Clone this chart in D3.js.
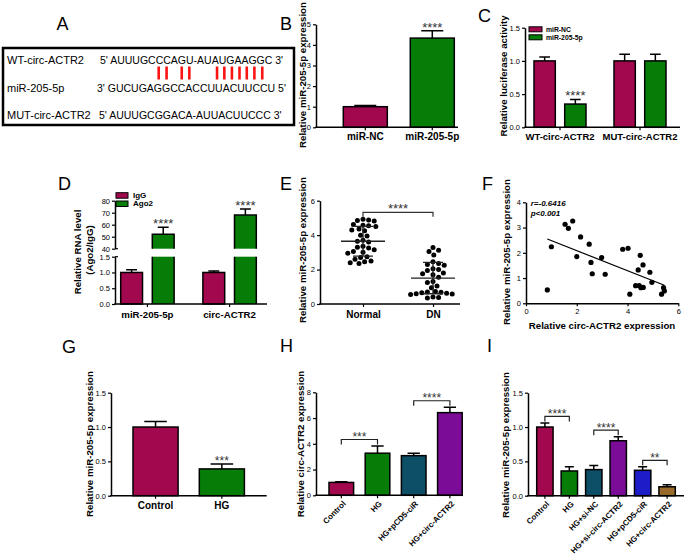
<!DOCTYPE html>
<html>
<head>
<meta charset="utf-8">
<script src="https://cdn.jsdelivr.net/npm/d3@7"></script>
<style>
  body { margin: 0; background: #fff; }
</style>
</head>
<body>
<svg id="svg" width="685" height="559"></svg>
<script>
"use strict";
// ---------- data ----------
// A: sequences (aligned column by column)
const seqNames = ['WT-circ-ACTR2', 'miR-205-5p', 'MUT-circ-ACTR2'];
const seqs = ['AUUUGCCCAGU-AUAUGAAGGC', 'GUCUGAGGCCACCUUACUUCCU', 'AUUUGCGGACA-AUUACUUCCC'];
const seqEnds = [["5'", "3'"], ["3'", "5'"], ["5'", "3'"]];

// B
const bGroups = ['miR-NC', 'miR-205-5p'];
const bMean = [1.0, 4.33];
const bErr = [0.06, 0.36];
const bStars = ['', '****'];

// C
const cGroups = ['WT-circ-ACTR2', 'MUT-circ-ACTR2'];
const cSeries = ['miR-NC', 'miR-205-5p'];
const cMean = [[1.0, 0.35], [1.0, 1.0]];
const cErr = [[0.06, 0.07], [0.10, 0.10]];
const cStars = [['', '****'], ['', '']];

// D
const dGroups = ['miR-205-5p', 'circ-ACTR2'];
const dSeries = ['IgG', 'Ago2'];
const dMean = [[1.0, 52], [1.0, 68]];
const dErr = [[0.09, 5.8], [0.05, 5.0]];
const dStars = [['', '****'], ['', '****']];

// E
const eGroups = ['Normal', 'DN'];
const eNormal = [4.92, 4.88, 4.85, 4.82, 2.50, 4.62, 4.58, 4.55, 4.50, 4.35, 4.30, 4.25, 4.00, 3.95, 3.70,
                 3.65, 3.60, 3.35, 3.30, 3.25, 3.05, 3.00, 2.95, 2.75, 2.70, 2.45, 2.40, 2.35, 2.60, 3.15];
const eDN = [3.28, 3.12, 3.05, 2.85, 2.45, 2.35, 2.30, 2.25, 2.05, 2.00, 1.95, 1.80, 1.75, 1.70, 1.55,
             1.30, 1.25, 1.05, 0.95, 0.72, 0.70, 0.68, 0.65, 0.62, 0.60, 0.58, 0.55, 0.40, 0.38, 0.35];

// F
const fCirc = [0.84, 1.00, 1.54, 1.67, 1.84, 2.00, 2.15, 2.49, 2.56, 2.61, 2.98, 3.12, 3.81, 4.02,
               4.09, 4.32, 4.42, 4.50, 4.46, 4.53, 4.61, 4.62, 4.88, 4.96, 5.34, 5.42, 5.45];
const fMiR = [0.53, 2.24, 3.13, 2.97, 3.26, 1.85, 2.63, 2.34, 1.62, 1.17, 1.81, 1.15, 2.14, 2.18,
              0.36, 0.70, 1.32, 1.90, 0.70, 0.62, 1.52, 0.63, 1.23, 0.83, 0.36, 0.62, 0.49];
const fStats = ['r=-0.6416', 'p<0.001'];

// G
const gGroups = ['Control', 'HG'];
const gMean = [1.0, 0.39];
const gErr = [0.08, 0.07];
const gStars = ['', '***'];

// H
const hGroups = ['Control', 'HG', 'HG+pCD5-ciR', 'HG+circ-ACTR2'];
const hMean = [1.0, 3.27, 3.08, 6.42];
const hErr = [0.06, 0.56, 0.19, 0.42];
const hPairs = [[0, 1, '***'], [2, 3, '****']];

// I
const iGroups = ['Control', 'HG', 'HG+si-NC', 'HG+si-circ-ACTR2', 'HG+pCD5-ciR', 'HG+circ-ACTR2'];
const iMean = [1.0, 0.36, 0.38, 0.80, 0.37, 0.13];
const iErr = [0.06, 0.06, 0.06, 0.06, 0.05, 0.03];
const iPairs = [[0, 1, '****'], [2, 3, '****'], [4, 5, '**']];

// ---------- colours ----------
const MAROON = '#a1084e', GREEN = '#067d06', TEAL = '#0d4f66',
      PURPLE = '#7a0c98', BLUE = '#1c1cc9', BROWN = '#9a6a2a';
const bColors = [MAROON, GREEN];
const seriesColors = [MAROON, GREEN];
const gColors = [MAROON, GREEN];
const hColors = [MAROON, GREEN, TEAL, PURPLE];
const iColors = [MAROON, GREEN, TEAL, PURPLE, BLUE, BROWN];

// ---------- helpers ----------
const FONT = '"Liberation Sans", Arial, Helvetica, sans-serif';
const svg = d3.select('#svg').attr('font-family', FONT);
svg.append('rect').attr('width', 685).attr('height', 559).attr('fill', '#fff');

function addText(x, y, txt, o = {}) {
  const t = svg.append('text').attr('x', x).attr('y', y).text(txt)
    .attr('font-size', o.size || 10)
    .attr('font-weight', o.weight || 'normal')
    .attr('text-anchor', o.anchor || 'start')
    .attr('fill', o.fill || '#000');
  if (o.italic) t.attr('font-style', 'italic');
  if (o.rotate) t.attr('transform', `rotate(${o.rotate},${x},${y})`);
  return t;
}

function yAxis(x0, y, ticks, fmt) {
  const g = svg.append('g').attr('transform', `translate(${x0},0)`)
    .call(d3.axisLeft(y).tickValues(ticks).tickFormat(d3.format(fmt))
      .tickSizeOuter(0).tickSizeInner(3).tickPadding(2));
  g.attr('font-family', FONT).attr('font-size', 7.5);
  g.select('.domain').attr('stroke-width', 1.5);
  g.selectAll('.tick line').attr('stroke-width', 1.2);
  return g;
}

function xAxis(x0, x1, y0, scale, o = {}) {
  svg.append('line').attr('x1', x0 - 0.75).attr('x2', x1).attr('y1', y0).attr('y2', y0)
    .attr('stroke', '#000').attr('stroke-width', 1.5);
  const g = svg.append('g').attr('transform', `translate(0,${y0})`)
    .call(d3.axisBottom(scale).tickSizeOuter(0).tickSizeInner(3).tickPadding(o.pad || 3));
  g.select('.domain').remove();
  g.attr('font-family', FONT).attr('font-size', o.size || 10).attr('font-weight', 'bold');
  g.selectAll('.tick line').attr('stroke-width', 1.2);
  if (o.rotate) {
    g.selectAll('.tick text').attr('text-anchor', 'end').attr('y', 0).attr('dy', '0.35em')
      .attr('transform', 'translate(3,7) rotate(-45)');
  }
  return g;
}

function errBar(cx, y1, y2, cw) {
  svg.append('path')
    .attr('d', `M${cx},${y1}V${y2}M${cx - cw / 2},${y2}H${cx + cw / 2}`)
    .attr('fill', 'none').attr('stroke', '#000').attr('stroke-width', 1.5);
}

function drawBar(x, w, y, v, e, color) {
  errBar(x + w / 2, y(v), y(v + e), Math.max(w * 0.5, 9));
  svg.append('rect').attr('x', x).attr('y', y(v)).attr('width', w).attr('height', y(0) - y(v))
    .attr('fill', color).attr('stroke', '#000').attr('stroke-width', 1.5);
}

function stars(cx, yTop, txt, size) {
  if (!txt) return;
  addText(cx, yTop + 1, txt, { size: size || 13, anchor: 'middle', fill: '#333' });
}

function bracket(xa, xb, yb, txt, size) {
  svg.append('path').attr('d', `M${xa},${yb + 5}V${yb}H${xb}V${yb + 5}`)
    .attr('fill', 'none').attr('stroke', '#222').attr('stroke-width', 1.2);
  addText((xa + xb) / 2, yb + 1.5, txt, { size: size || 12, anchor: 'middle', fill: '#333' });
}

function yTitle(x, y, txt) {
  addText(x, y, txt, { size: 9.7, weight: 'bold', anchor: 'middle', rotate: -90 });
}

// panel letters
[['A', 56.5, 30], ['B', 280, 30], ['C', 478, 22], ['D', 58, 190], ['E', 280, 190],
 ['F', 482, 190], ['G', 62, 353], ['H', 280, 352], ['I', 487, 352]]
  .forEach(([t, x, y]) => addText(x, y, t, { size: 18 }));

// ---------- A ----------
svg.append('rect').attr('x', 3).attr('y', 48).attr('width', 291).attr('height', 77)
  .attr('fill', 'none').attr('stroke', '#000').attr('stroke-width', 2.5);
const rowY = [64, 92, 119];
const seqX = [100, 97, 99];
const seqText = seqs.map((s, i) => {
  addText(7, rowY[i], seqNames[i], { size: 11 });
  return addText(seqX[i], rowY[i], `${seqEnds[i][0]} ${s} ${seqEnds[i][1]}`, { size: 10.5 });
});
const pairOf = { A: 'U', U: 'A', G: 'C', C: 'G' };
const charMid = (t, k) => { const r = t.node().getExtentOfChar(k + 3); return r.x + r.width / 2; };
seqs[0].split('').forEach((c, k) => {
  if (pairOf[c] && pairOf[c] === seqs[1][k]) {
    const cx = (charMid(seqText[0], k) + charMid(seqText[1], k)) / 2;
    svg.append('rect').attr('x', cx - 1.3).attr('y', 66.5).attr('width', 2.6).attr('height', 13)
      .attr('fill', '#ff1414');
  }
});

// ---------- B ----------
const yB = d3.scaleLinear([0, 5], [127.3, 24.3]);
const xB = d3.scaleBand(bGroups, [343.3, 454.3]).paddingInner(0.343).paddingOuter(0);
bGroups.forEach((g, i) => {
  drawBar(xB(g), xB.bandwidth(), yB, bMean[i], bErr[i], bColors[i]);
  stars(xB(g) + xB.bandwidth() / 2, yB(bMean[i] + bErr[i]), bStars[i]);
});
yAxis(316, yB, [0, 1, 2, 3, 4, 5], 'd');
xAxis(316, 458, 127.3, xB);
yTitle(306, 75, 'Relative miR-205-5p expression');

// ---------- C ----------
const yC = d3.scaleLinear([0, 1.5], [127.3, 27.7]);
const xC = d3.scaleBand(cGroups, [534, 666]).paddingInner(0.35).paddingOuter(0);
const xCs = d3.scaleBand(cSeries, [0, xC.bandwidth()]).paddingInner(0.306).paddingOuter(0);
cGroups.forEach((g, i) => cSeries.forEach((s, j) => {
  const x = xC(g) + xCs(s);
  drawBar(x, xCs.bandwidth(), yC, cMean[i][j], cErr[i][j], seriesColors[j]);
  stars(x + xCs.bandwidth() / 2, yC(cMean[i][j] + cErr[i][j]), cStars[i][j]);
}));
yAxis(525, yC, [0, 0.5, 1, 1.5], '.1f');
xAxis(525, 680, 127.3, xC, { size: 9.5 });
yTitle(506.5, 76, 'Relative luciferase activity');
cSeries.forEach((s, j) => {
  svg.append('rect').attr('x', 529).attr('y', 26.8 + j * 8).attr('width', 13).attr('height', 5)
    .attr('fill', seriesColors[j]).attr('stroke', '#000').attr('stroke-width', 1);
  addText(546, 31.8 + j * 8, s, { size: 6.8, weight: 'bold' });
});

// ---------- D (broken axis) ----------
const yDlow = d3.scaleLinear([0, 1.5], [304, 256.7]);
const yDhigh = d3.scaleLinear([40, 80], [248.7, 200.7]);
const xD = d3.scaleBand(dGroups, [120.7, 256.3]).paddingInner(0.35).paddingOuter(0);
const xDs = d3.scaleBand(dSeries, [0, xD.bandwidth()]).paddingInner(0.31).paddingOuter(0);
dGroups.forEach((g, i) => dSeries.forEach((s, j) => {
  const x = xD(g) + xDs(s), w = xDs.bandwidth(), v = dMean[i][j], e = dErr[i][j];
  if (v <= 1.5) {
    drawBar(x, w, yDlow, v, e, seriesColors[j]);
    stars(x + w / 2, yDlow(v + e), dStars[i][j]);
  } else {
    errBar(x + w / 2, yDhigh(v), yDhigh(v + e), Math.max(w * 0.5, 9));
    svg.append('rect').attr('x', x).attr('y', yDhigh(v)).attr('width', w)
      .attr('height', yDhigh(40) - yDhigh(v)).attr('fill', seriesColors[j]);
    svg.append('rect').attr('x', x).attr('y', yDlow(1.5)).attr('width', w)
      .attr('height', yDlow(0) - yDlow(1.5)).attr('fill', seriesColors[j]);
    svg.append('path')
      .attr('d', `M${x},${yDhigh(40)}V${yDhigh(v)}H${x + w}V${yDhigh(40)}` +
                 `M${x},${yDlow(0)}V${yDlow(1.5)}M${x + w},${yDlow(0)}V${yDlow(1.5)}`)
      .attr('fill', 'none').attr('stroke', '#000').attr('stroke-width', 1.5);
    stars(x + w / 2, yDhigh(v + e), dStars[i][j]);
  }
}));
yAxis(115, yDlow, [0, 0.5, 1, 1.5], '.1f');
yAxis(115, yDhigh, [40, 50, 60, 70, 80], 'd');
[yDhigh(40), yDlow(1.5)].forEach(yy => svg.append('line').attr('x1', 115).attr('x2', 118)
  .attr('y1', yy).attr('y2', yy).attr('stroke', '#000').attr('stroke-width', 1.2));
xAxis(115, 267, 304, xD, { size: 9.7, pad: 4 });
yTitle(81, 252, 'Relative RNA level');
yTitle(93, 250, '(Ago2/IgG)');
dSeries.forEach((s, j) => {
  svg.append('rect').attr('x', 116).attr('y', 192.7 + j * 8.3).attr('width', 12).attr('height', 5.5)
    .attr('fill', seriesColors[j]).attr('stroke', '#000').attr('stroke-width', 1);
  addText(133, 198 + j * 8.3, s, { size: 8, weight: 'bold' });
});

// ---------- E (scatter dot plot) ----------
const yE = d3.scaleLinear([0, 6], [304, 200.7]);
const xE = d3.scalePoint(eGroups, [363, 433]);
function swarm(values, cx, y, r) {
  const placed = [];
  values.slice().sort((a, b) => b - a).forEach(v => {
    const py = y(v);
    for (let k = 0; k < 200; k++) {
      const off = (k % 2 ? 1 : -1) * Math.ceil(k / 2) * 0.8;
      const px = cx + off;
      if (placed.every(p => (p.px - px) ** 2 + (p.py - py) ** 2 >= (2 * r + 0.6) ** 2)) {
        placed.push({ px, py });
        break;
      }
    }
  });
  return placed;
}
[eNormal, eDN].forEach((vals, i) => {
  const cx = xE(eGroups[i]);
  swarm(vals, cx, yE, 2.5).forEach(p => svg.append('circle').attr('cx', p.px).attr('cy', p.py)
    .attr('r', 2.5).attr('fill', '#000'));
  const m = d3.mean(vals), sd = d3.deviation(vals);
  svg.append('path')
    .attr('d', `M${cx - 22},${yE(m)}H${cx + 22}M${cx},${yE(m - sd)}V${yE(m + sd)}` +
               `M${cx - 10},${yE(m - sd)}H${cx + 10}M${cx - 10},${yE(m + sd)}H${cx + 10}`)
    .attr('fill', 'none').attr('stroke', '#222').attr('stroke-width', 1.3);
});
yAxis(320, yE, [0, 2, 4, 6], 'd');
xAxis(320, 460, 304, xE, { size: 10, pad: 4 });
yTitle(305.5, 250, 'Relative miR-205-5p expression');
{
  const yb = yE(d3.max(eNormal)) - 7;
  svg.append('path').attr('d', `M${xE('Normal')},${yb + 4.5}V${yb}H${xE('DN')}V${yb + 4.5}`)
    .attr('fill', 'none').attr('stroke', '#333').attr('stroke-width', 1.2);
  addText((xE('Normal') + xE('DN')) / 2, yb + 1, '****', { size: 13, anchor: 'middle', fill: '#333' });
}

// ---------- F (correlation) ----------
const xF = d3.scaleLinear([0, 6], [526, 678.3]);
const yF = d3.scaleLinear([0, 4], [303.3, 202.3]);
{
  const gx = svg.append('g').attr('transform', 'translate(0,303.3)')
    .call(d3.axisBottom(xF).tickValues([0, 2, 4, 6]).tickFormat(d3.format('d'))
      .tickSizeOuter(0).tickSizeInner(3).tickPadding(2));
  gx.attr('font-family', FONT).attr('font-size', 7.5);
  gx.select('.domain').attr('stroke-width', 1.5);
  gx.selectAll('.tick line').attr('stroke-width', 1.2);
}
yAxis(526, yF, [0, 1, 2, 3, 4], 'd');
fCirc.forEach((c, k) => svg.append('circle').attr('cx', xF(c)).attr('cy', yF(fMiR[k]))
  .attr('r', 2.6).attr('fill', '#000'));
{
  const mx = d3.mean(fCirc), my = d3.mean(fMiR);
  const slope = d3.sum(fCirc, (c, k) => (c - mx) * (fMiR[k] - my)) / d3.sum(fCirc, c => (c - mx) ** 2);
  const icpt = my - slope * mx;
  const [x0, x1] = d3.extent(fCirc);
  svg.append('line').attr('x1', xF(x0)).attr('y1', yF(icpt + slope * x0))
    .attr('x2', xF(x1)).attr('y2', yF(icpt + slope * x1))
    .attr('stroke', '#000').attr('stroke-width', 1.2);
}
addText(530.7, 205.5, fStats[0], { size: 8, weight: 'bold', italic: true });
addText(530.7, 216, fStats[1], { size: 8, weight: 'bold', italic: true });
yTitle(510, 252, 'Relative miR-205-5p expression');
addText(602, 329, 'Relative circ-ACTR2 expression', { size: 9.7, weight: 'bold', anchor: 'middle' });

// ---------- G ----------
const yG = d3.scaleLinear([0, 1.5], [495.7, 392.7]);
const xG = d3.scaleBand(gGroups, [133, 244.4]).paddingInner(0.32).paddingOuter(0);
gGroups.forEach((g, i) => {
  drawBar(xG(g), xG.bandwidth(), yG, gMean[i], gErr[i], gColors[i]);
  stars(xG(g) + xG.bandwidth() / 2, yG(gMean[i] + gErr[i]), gStars[i], 12);
});
yAxis(111, yG, [0, 0.5, 1, 1.5], '.1f');
xAxis(111, 266.7, 495.7, xG, { size: 10 });
yTitle(92.5, 444, 'Relative miR-205-5p expression');

// ---------- H ----------
const yH = d3.scaleLinear([0, 8], [495.3, 392.3]);
const xH = d3.scaleBand(hGroups, [329, 462.2]).paddingInner(0.32).paddingOuter(0);
hGroups.forEach((g, i) => drawBar(xH(g), xH.bandwidth(), yH, hMean[i], hErr[i], hColors[i]));
hPairs.forEach(([a, b, t]) => {
  const top = Math.min(yH(hMean[a] + hErr[a]), yH(hMean[b] + hErr[b]));
  bracket(xH(hGroups[a]) + xH.bandwidth() / 2, xH(hGroups[b]) + xH.bandwidth() / 2, top - 6.5, t);
});
yAxis(316, yH, [0, 2, 4, 6, 8], 'd');
xAxis(316, 460, 495.3, xH, { size: 8, rotate: true });
yTitle(304, 444, 'Relative circ-ACTR2 expression');

// ---------- I ----------
const yI = d3.scaleLinear([0, 1.5], [495.7, 392.7]);
const xI = d3.scaleBand(iGroups, [536.7, 675.3]).paddingInner(0.33).paddingOuter(0);
iGroups.forEach((g, i) => drawBar(xI(g), xI.bandwidth(), yI, iMean[i], iErr[i], iColors[i]));
iPairs.forEach(([a, b, t]) => {
  const top = Math.min(yI(iMean[a] + iErr[a]), yI(iMean[b] + iErr[b]));
  bracket(xI(iGroups[a]) + xI.bandwidth() / 2, xI(iGroups[b]) + xI.bandwidth() / 2, top - 6.5, t);
});
yAxis(528, yI, [0, 0.5, 1, 1.5], '.1f');
xAxis(528, 684, 495.7, xI, { size: 8, rotate: true });
yTitle(509, 445, 'Relative miR-205-5p expression');
</script>
</body>
</html>
